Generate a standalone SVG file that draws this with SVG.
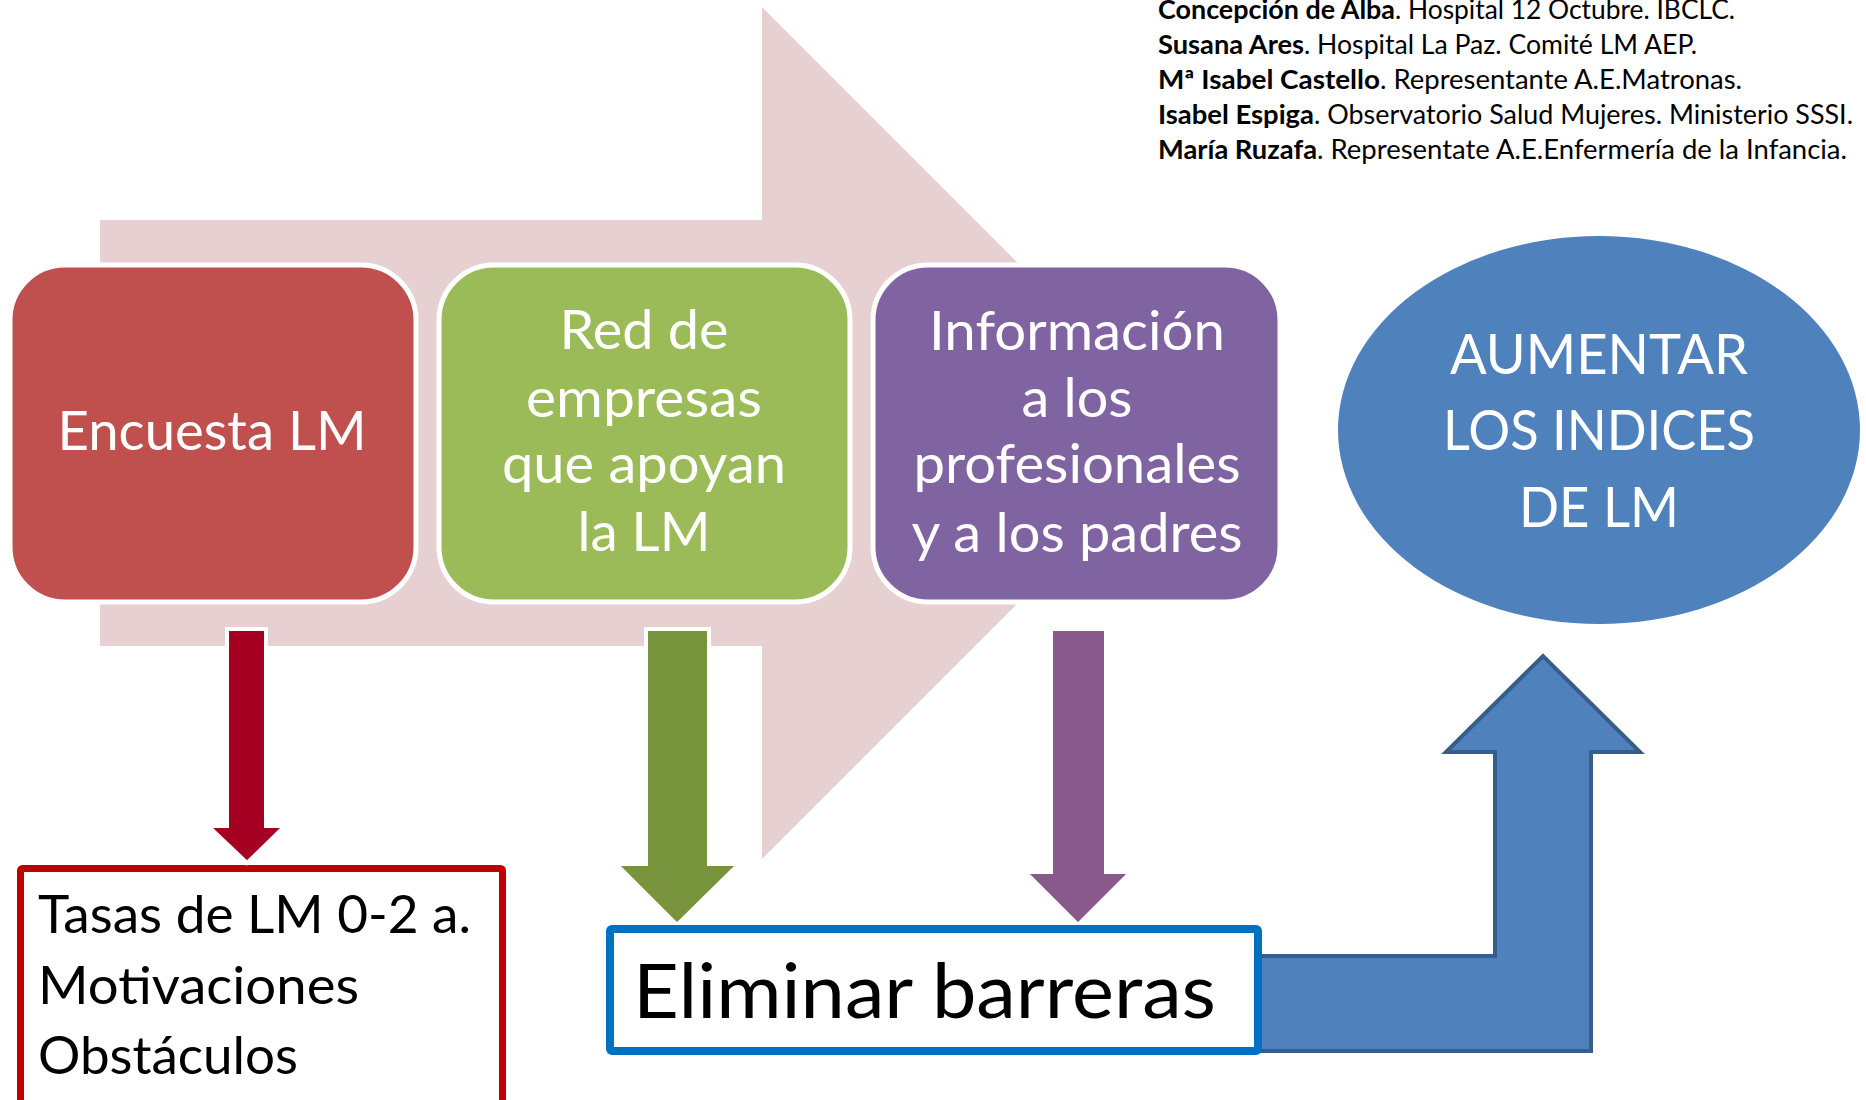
<svg xmlns="http://www.w3.org/2000/svg" width="1866" height="1100" viewBox="0 0 1866 1100">
<style>
  text { font-family: Lato, "Open Sans", "Liberation Sans", sans-serif; }
  .box { stroke: #FFFFFF; stroke-width: 5; }
  .wt { fill: #FFFFFF; font-size: 54px; text-anchor: middle; }
  .el { fill: #FFFFFF; font-size: 56px; text-anchor: middle; }
  .dn { stroke: #FFFFFF; stroke-width: 4; stroke-linejoin: miter; }
  .bk { fill: #000000; }
  .cr { fill: #000000; font-size: 26px; }
  .b { font-weight: 700; }
</style>
<rect x="0" y="0" width="1866" height="1100" fill="#FFFFFF"/>

<g id="bg-arrow">
  <polygon points="100,220 762,220 762,7 1188,433 762,859 762,646 100,646" fill="#E6D0D1"/>
</g>

<g id="node-encuesta">
  <rect class="box" x="10" y="265" width="406" height="337" rx="55" ry="55" fill="#C0504D"/>
  <text class="wt" x="212" y="450" textLength="309" lengthAdjust="spacingAndGlyphs">Encuesta LM</text>
</g>

<g id="node-red">
  <rect class="box" x="439" y="265" width="411" height="337" rx="55" ry="55" fill="#9BBB59"/>
  <text class="wt" x="644" y="349" textLength="169" lengthAdjust="spacingAndGlyphs">Red de</text>
  <text class="wt" x="644" y="417" textLength="236" lengthAdjust="spacingAndGlyphs">empresas</text>
  <text class="wt" x="644" y="483" textLength="284" lengthAdjust="spacingAndGlyphs">que apoyan</text>
  <text class="wt" x="644" y="551" textLength="133" lengthAdjust="spacingAndGlyphs">la LM</text>
</g>

<g id="node-informacion">
  <rect class="box" x="873" y="265" width="407" height="337" rx="55" ry="55" fill="#8064A2"/>
  <text class="wt" x="1077" y="350" textLength="296" lengthAdjust="spacingAndGlyphs">Información</text>
  <text class="wt" x="1077" y="417" textLength="111" lengthAdjust="spacingAndGlyphs">a los</text>
  <text class="wt" x="1077" y="483" textLength="327" lengthAdjust="spacingAndGlyphs">profesionales</text>
  <text class="wt" x="1077" y="552" textLength="331" lengthAdjust="spacingAndGlyphs">y a los padres</text>
</g>

<g id="node-aumentar">
  <ellipse cx="1599" cy="430" rx="261" ry="194" fill="#4F81BD"/>
  <text class="el" x="1599" y="374" textLength="298" lengthAdjust="spacingAndGlyphs">AUMENTAR</text>
  <text class="el" x="1599" y="450" textLength="312" lengthAdjust="spacingAndGlyphs">LOS INDICES</text>
  <text class="el" x="1599" y="527" textLength="160" lengthAdjust="spacingAndGlyphs">DE LM</text>
</g>

<g id="node-tasas">
  <rect x="20.5" y="868.5" width="482" height="260" rx="2" fill="#FFFFFF" stroke="#C00000" stroke-width="7"/>
  <text class="bk" x="38" y="933" font-size="52" textLength="433" lengthAdjust="spacingAndGlyphs">Tasas de LM 0-2 a.</text>
  <text class="bk" x="38" y="1004" font-size="52" textLength="321" lengthAdjust="spacingAndGlyphs">Motivaciones</text>
  <text class="bk" x="38" y="1074" font-size="52" textLength="260" lengthAdjust="spacingAndGlyphs">Obstáculos</text>
</g>

<g id="connectors">
  <polygon class="dn" points="227,629 266,629 266,826 285,826 247,863 208,826 227,826" fill="#A50021"/>
  <polygon class="dn" points="646,629 709,629 709,864 739,864 677,925 616,864 646,864" fill="#77933C"/>
  <polygon class="dn" points="1051,629 1106,629 1106,872 1131,872 1078,925 1025,872 1051,872" fill="#885A8C"/>
  <path d="M1250,956 L1495,956 L1495,752 L1446,752 L1543,656 L1640,752 L1591,752 L1591,1051 L1250,1051 Z" fill="#4F81BD" stroke="#385D8A" stroke-width="4" stroke-linejoin="miter"/>
</g>

<g id="node-eliminar">
  <rect x="610" y="929" width="648" height="122" rx="2" fill="#FFFFFF" stroke="#0070C0" stroke-width="8"/>
  <text class="bk" x="633" y="1018" font-size="75" textLength="583" lengthAdjust="spacingAndGlyphs">Eliminar barreras</text>
</g>

<g id="credits">
  <text class="cr b" x="1158" y="19" textLength="237" lengthAdjust="spacingAndGlyphs">Concepción de Alba</text>
  <text class="cr" x="1395" y="19" textLength="340" lengthAdjust="spacingAndGlyphs">. Hospital 12 Octubre. IBCLC.</text>
  <text class="cr b" x="1158" y="54" textLength="146" lengthAdjust="spacingAndGlyphs">Susana Ares</text>
  <text class="cr" x="1304" y="54" textLength="393" lengthAdjust="spacingAndGlyphs">. Hospital La Paz. Comité LM AEP.</text>
  <text class="cr b" x="1158" y="89" textLength="222" lengthAdjust="spacingAndGlyphs">Mª Isabel Castello</text>
  <text class="cr" x="1380" y="89" textLength="362" lengthAdjust="spacingAndGlyphs">. Representante A.E.Matronas.</text>
  <text class="cr b" x="1158" y="124" textLength="156" lengthAdjust="spacingAndGlyphs">Isabel Espiga</text>
  <text class="cr" x="1314" y="124" textLength="539" lengthAdjust="spacingAndGlyphs">. Observatorio Salud Mujeres. Ministerio SSSI.</text>
  <text class="cr b" x="1158" y="159" textLength="159" lengthAdjust="spacingAndGlyphs">María Ruzafa</text>
  <text class="cr" x="1317" y="159" textLength="530" lengthAdjust="spacingAndGlyphs">. Representate A.E.Enfermería de la Infancia.</text>
</g>
</svg>
